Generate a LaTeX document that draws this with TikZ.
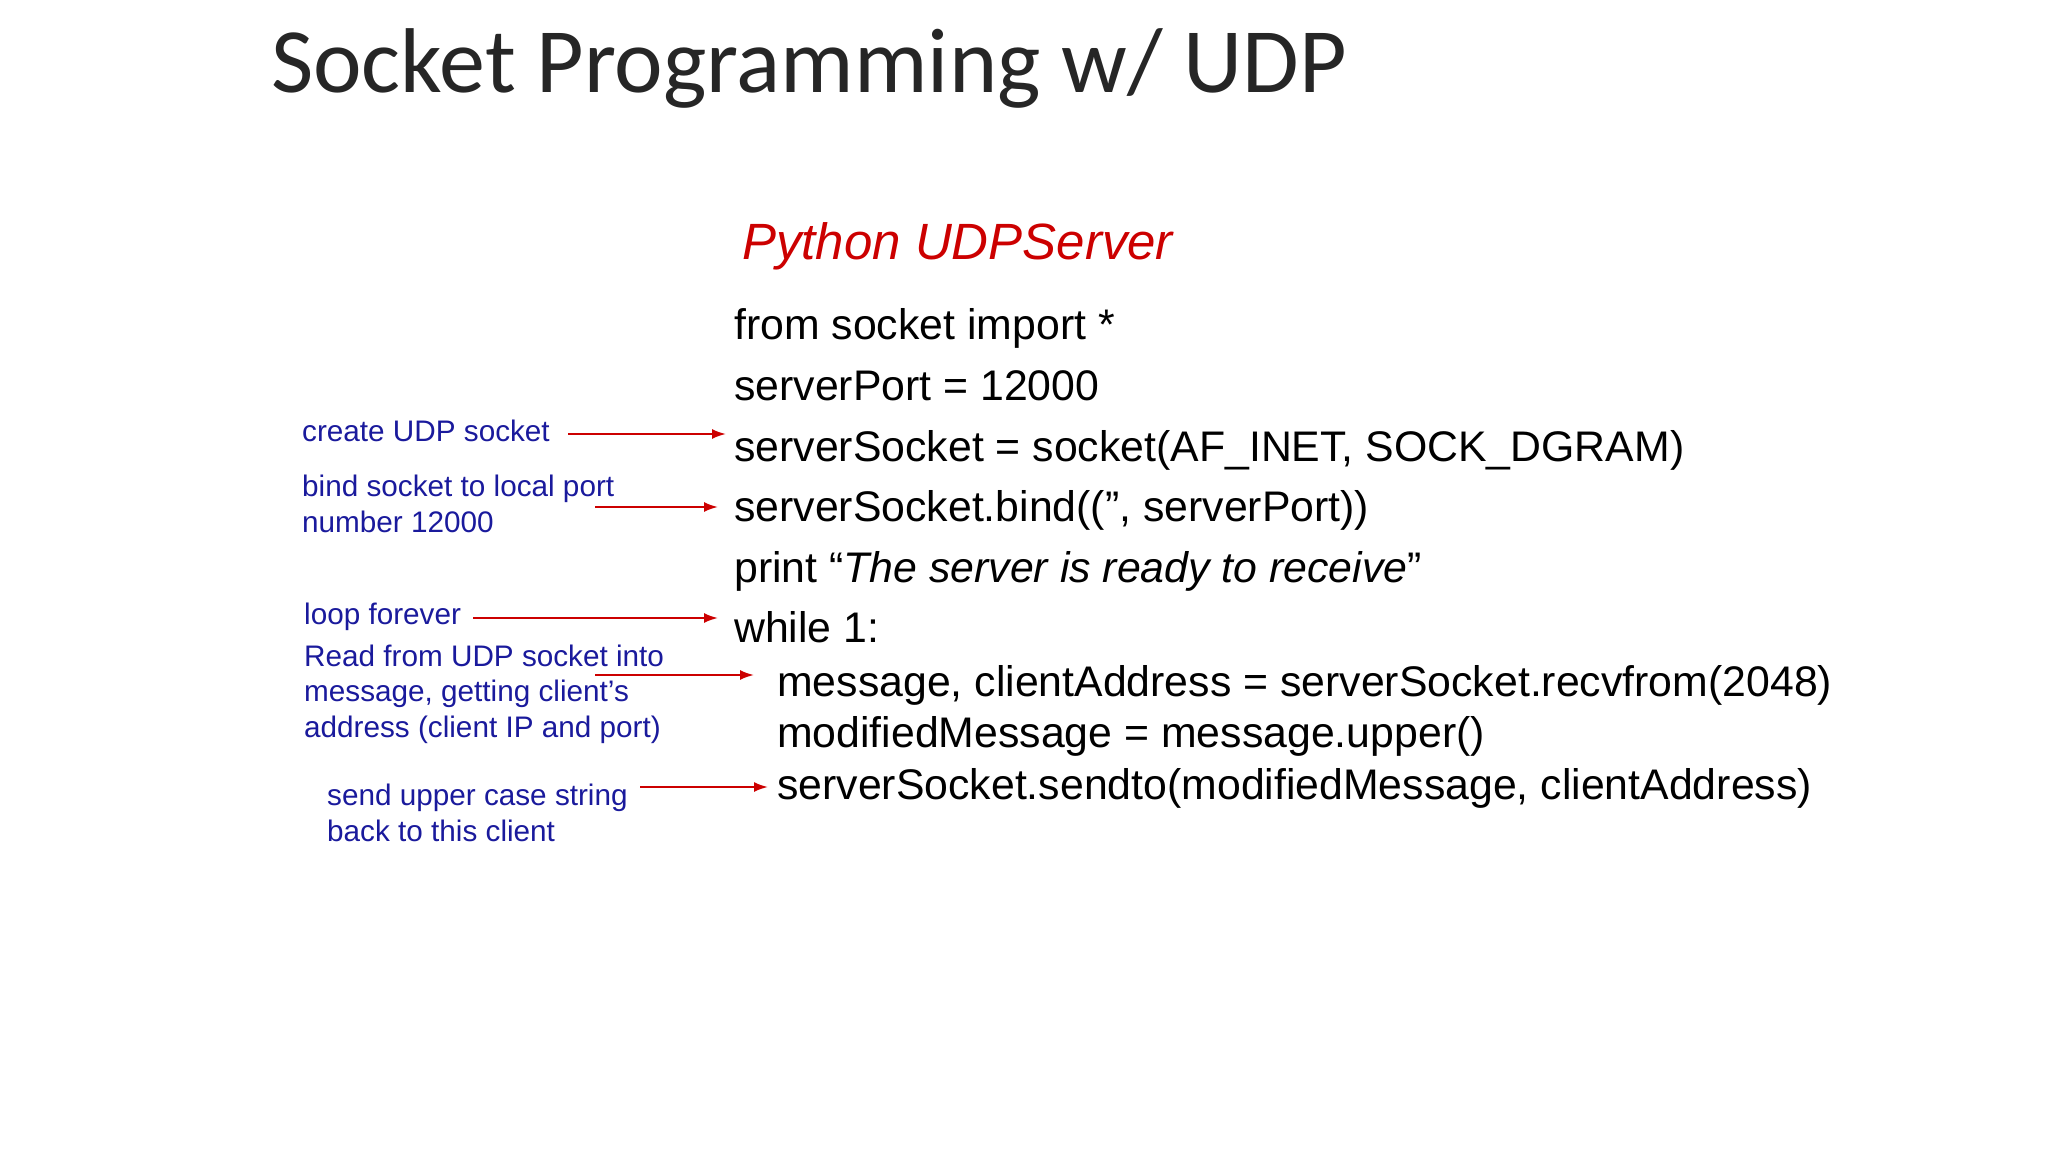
\documentclass[tikz,border=0pt]{standalone}
\usepackage{fontspec}
\usetikzlibrary{arrows.meta}
\setmainfont{Liberation Sans}
\newfontfamily\titlefont{Carlito}
\definecolor{lblue}{HTML}{1A1A9C}
\definecolor{ared}{HTML}{CC0000}
\begin{document}
\begin{tikzpicture}[x=1pt,y=-1pt,
  code/.style={anchor=base west,inner sep=0,font=\fontsize{42.8}{48}\selectfont},
  lbl/.style={anchor=base west,inner sep=0,align=left,text=lblue,font=\fontsize{29.7}{35.5}\selectfont},
  arr/.style={draw=ared,line width=2pt,-{Latex[length=14pt,width=10pt]}}]
\useasboundingbox (0,0) rectangle (2048,1152);
\node[anchor=base west,inner sep=0,font=\titlefont\fontsize{92}{100}\selectfont,text=black!85] (title) at (271,92) {Socket Programming w/ UDP};
\node[anchor=base west,inner sep=0,text=ared,font=\fontsize{51}{60}\selectfont\itshape] (hdr) at (742,259) {Python UDPServer};
\node[code] (c1) at (734,339) {from socket import *};
\node[code] (c2) at (734,400) {serverPort = 12000};
\node[code] (c3) at (734,461) {serverSocket = socket(AF\_INET, SOCK\_DGRAM)};
\node[code] (c4) at (734,521) {serverSocket.bind((\char"22, serverPort))};
\node[code] (c5) at (734,582) {print “\textit{The server is ready to receive}”};
\node[code] (c6) at (734,642) {while 1:};
\node[code] (c7) at (777,696) {message, clientAddress = serverSocket.recvfrom(2048)};
\node[code] (c8) at (777,747) {modifiedMessage = message.upper()};
\node[code] (c9) at (777,799) {serverSocket.sendto(modifiedMessage, clientAddress)};
\node[lbl] (l1) at (302,441) {create UDP socket};
\node[lbl] (l2) at (302,532) {bind socket to local port\\number 12000};
\node[lbl] (l3) at (304,624) {loop forever};
\node[lbl] (l4) at (304,737) {Read from UDP socket into\\message, getting client’s\\address (client IP and port)};
\node[lbl] (l5) at (327,841) {send upper case string\\back to this client};
\coordinate (a1s) at (568,434); \coordinate (a1e) at (726,434);
\coordinate (a2s) at (595,507); \coordinate (a2e) at (718,507);
\coordinate (a3s) at (473,618); \coordinate (a3e) at (718,618);
\coordinate (a4s) at (595,675); \coordinate (a4e) at (754,675);
\coordinate (a5s) at (640,787); \coordinate (a5e) at (768,787);
\draw[arr] (a1s) -- (a1e);
\draw[arr] (a2s) -- (a2e);
\draw[arr] (a3s) -- (a3e);
\draw[arr] (a4s) -- (a4e);
\draw[arr] (a5s) -- (a5e);
\end{tikzpicture}
\end{document}
